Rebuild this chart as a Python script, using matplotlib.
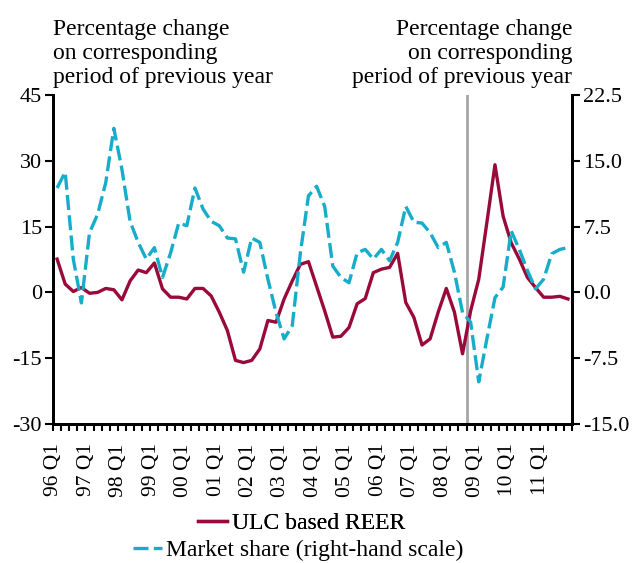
import numpy as np
import matplotlib.pyplot as plt

# quarterly data, 96 Q1 .. 11 Q4
years = ["96", "97", "98", "99", "00", "01", "02", "03",
         "04", "05", "06", "07", "08", "09", "10", "11"]
quarter_labels = [f"{y} Q{q}" for y in years for q in range(1, 5)]

# ULC based REER (left scale)
reer = [7.6, 1.9, 0.2, 1.1, -0.2, 0.0, 0.9, 0.6,
        -1.7, 2.6, 5.1, 4.5, 6.7, 0.8, -1.1, -1.1,
        -1.5, 0.9, 0.9, -0.8, -4.5, -8.7, -15.5, -16.0,
        -15.5, -12.9, -6.4, -6.8, -1.5, 2.6, 6.4, 7.0,
        1.4, -4.2, -10.2, -10.0, -8.0, -2.6, -1.4, 4.5,
        5.3, 5.7, 8.9, -2.3, -5.7, -12.0, -10.6, -4.5,
        0.9, -4.5, -14.0, -4.2, 3.0, 15.9, 29.1, 17.4,
        11.3, 7.6, 3.4, 1.1, -1.1, -1.1, -0.9, -1.5]

# market share (right scale)
market_share = [11.9, 13.7, 3.8, -1.2, 6.8, 8.9, 12.5, 18.7,
                14.0, 8.1, 5.7, 3.8, 5.1, 1.7, 4.5, 7.9,
                7.6, 11.9, 9.5, 8.1, 7.6, 6.2, 6.1, 2.3,
                6.2, 5.7, 1.5, -2.3, -5.3, -3.8, 4.5, 11.0,
                12.1, 9.8, 3.0, 1.7, 1.1, 4.5, 4.9, 3.8,
                4.9, 3.6, 5.7, 9.8, 8.0, 7.9, 6.8, 5.1,
                5.7, 2.3, -2.3, -3.4, -10.2, -5.3, -0.6, 0.6,
                7.0, 4.9, 2.5, 0.4, 1.5, 4.4, 4.9, 5.1]

RED = "#990a3a"
BLUE = "#15adc9"

plt.rcParams["font.family"] = ["Liberation Serif", "DejaVu Serif"]
plt.rcParams["font.size"] = 16
plt.rcParams["axes.unicode_minus"] = False

fig = plt.figure(figsize=(6.35, 5.63), dpi=100)
ax = fig.add_axes([0.0835, 0.2469, 0.8173, 0.5844])
ax2 = ax.twinx()

x = np.arange(len(reer))
ax.axvline(50.5, color="#a6a6a6", lw=2, zorder=1)
l1, = ax.plot(x, reer, color=RED, lw=2.4, zorder=3, label="ULC based REER")
l2, = ax2.plot(x, market_share, color=BLUE, lw=2.4, dashes=(4.5, 1.6),
               label="Market share (right-hand scale)")

ax.set_xlim(-0.5, len(reer) - 0.5)
ax.set_ylim(-30, 45)
ax.set_yticks(np.arange(-30, 46, 15))
ax2.set_ylim(-15, 22.5)
ax2.set_yticks(np.arange(-15, 22.6, 7.5))
ax2.set_yticklabels([f"{v:.1f}" for v in np.arange(-15, 22.6, 7.5)])

# tick marks between quarters, labels every Q1
ax.set_xticks(np.arange(-0.5, len(reer), 1), minor=True)
ax.set_xticks(np.arange(0, len(reer), 4) - 0.4)
ax.set_xticklabels(quarter_labels[::4], rotation=90, fontsize=15.5)
ax.tick_params(axis="x", which="major", length=0, pad=14)
ax.tick_params(axis="x", which="minor", length=5, width=1.5, direction="out")
ax.tick_params(axis="y", length=6, width=1.5, pad=2)
ax2.tick_params(axis="y", length=6, width=1.5, pad=2)

for a in (ax, ax2):
    a.spines["top"].set_visible(False)
    for s in ("left", "right", "bottom"):
        a.spines[s].set_linewidth(2)

title = "Percentage change\non corresponding\nperiod of previous year"
ax.text(0.0, 1.02, title, transform=ax.transAxes, ha="left", va="bottom",
        fontsize=17, linespacing=1.2)
ax.text(1.0, 1.02, title, transform=ax.transAxes, ha="right", va="bottom",
        fontsize=17, linespacing=1.2)

# each legend row is centred on its own
leg1 = fig.legend(handles=[l1], loc="center", bbox_to_anchor=(0.475, 0.071),
                  frameon=False, handlelength=1.2, handletextpad=0.2,
                  fontsize=17, borderpad=0)
fig.legend(handles=[l2], loc="center", bbox_to_anchor=(0.47, 0.023),
           frameon=False, handlelength=1.2, handletextpad=0.2,
           fontsize=17, borderpad=0)
fig.add_artist(leg1)

fig.savefig("out.png", dpi=100)
